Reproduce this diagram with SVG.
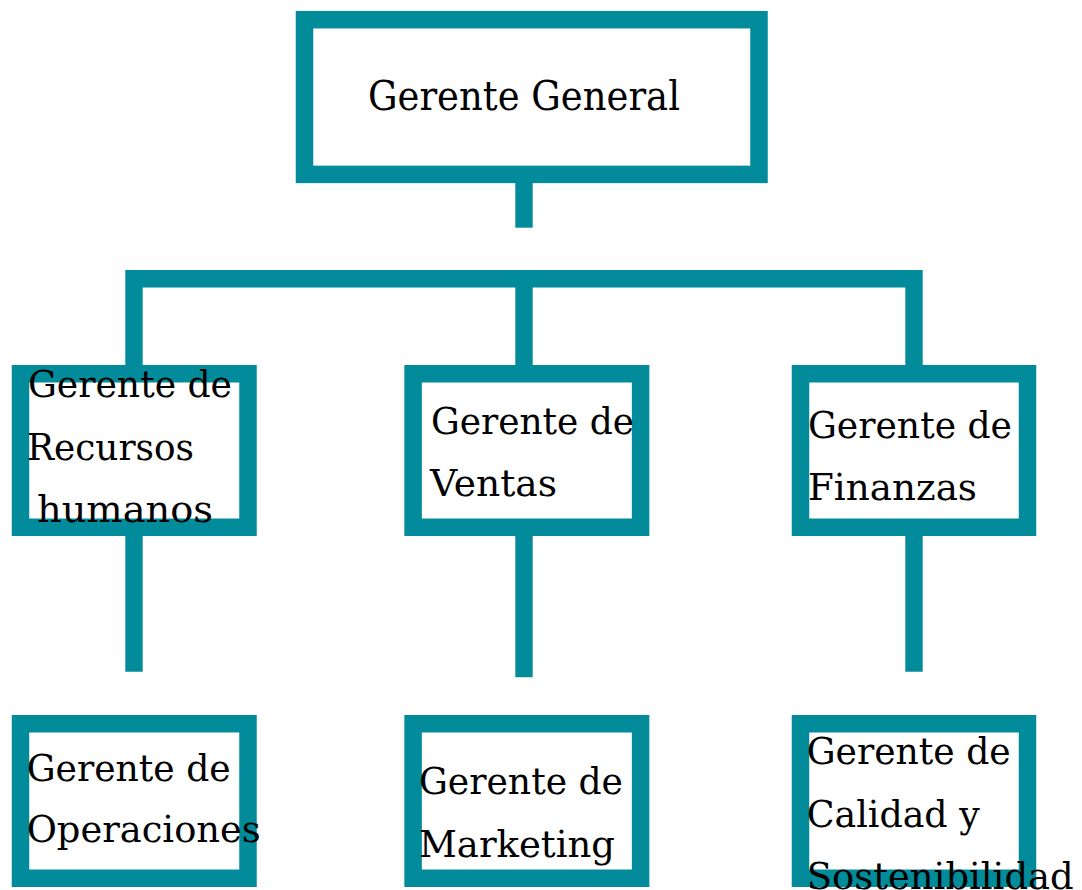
<svg xmlns="http://www.w3.org/2000/svg" width="1082" height="890" viewBox="0 0 1082 890">
<style>
.box{fill:#ffffff;stroke:#028B9B;stroke-width:17.5}
.con{fill:none;stroke:#028B9B;stroke-width:17.4;stroke-linecap:butt;stroke-linejoin:miter}
.t{font-family:"DejaVu Serif","Liberation Serif",serif;font-size:38px;fill:#000000}
.tt{font-family:"DejaVu Serif","Liberation Serif",serif;font-size:41px;fill:#000000}
</style>
<rect width="1082" height="890" fill="#ffffff"/>
<g id="connectors">
<path class="con" d="M524,183 V227.7"/>
<path class="con" d="M134,365 V278.8 H914 V365"/>
<path class="con" d="M524,278.8 V365"/>
<path class="con" d="M134,536 V671.7"/>
<path class="con" d="M524,536 V677.3"/>
<path class="con" d="M914,536 V671.7"/>
</g>
<g id="gerente-general">
<rect class="box" x="304.5" y="19.7" width="454.5" height="154.7"/>
<text class="tt" x="368" y="109.5" textLength="312" lengthAdjust="spacingAndGlyphs">Gerente General</text>
</g>
<g id="gerente-rrhh">
<rect class="box" x="20.5" y="373.75" width="227.5" height="153.5"/>
<text class="t" x="28" y="396.5" textLength="204" lengthAdjust="spacingAndGlyphs">Gerente de</text>
<text class="t" x="27" y="460" textLength="167" lengthAdjust="spacingAndGlyphs">Recursos</text>
<text class="t" x="37" y="521.5" textLength="176" lengthAdjust="spacingAndGlyphs">humanos</text>
</g>
<g id="gerente-ventas">
<rect class="box" x="413.1" y="373.75" width="227.5" height="153.5"/>
<text class="t" x="431" y="433.5" textLength="203" lengthAdjust="spacingAndGlyphs">Gerente de</text>
<text class="t" x="430" y="495.7" textLength="127" lengthAdjust="spacingAndGlyphs">Ventas</text>
</g>
<g id="gerente-finanzas">
<rect class="box" x="800.5" y="373.75" width="227" height="153.5"/>
<text class="t" x="808" y="437.5" textLength="204" lengthAdjust="spacingAndGlyphs">Gerente de</text>
<text class="t" x="808" y="500" textLength="169" lengthAdjust="spacingAndGlyphs">Finanzas</text>
</g>
<g id="gerente-operaciones">
<rect class="box" x="20.5" y="723.75" width="227.5" height="154.5"/>
<text class="t" x="26.7" y="781" textLength="204" lengthAdjust="spacingAndGlyphs">Gerente de</text>
<text class="t" x="26.7" y="841.7" textLength="234" lengthAdjust="spacingAndGlyphs">Operaciones</text>
</g>
<g id="gerente-marketing">
<rect class="box" x="413.1" y="723.75" width="227.5" height="154.5"/>
<text class="t" x="419" y="794.3" textLength="204" lengthAdjust="spacingAndGlyphs">Gerente de</text>
<text class="t" x="419" y="856.7" textLength="196" lengthAdjust="spacingAndGlyphs">Marketing</text>
</g>
<g id="gerente-calidad">
<rect class="box" x="800.5" y="723.75" width="227" height="154.5"/>
<text class="t" x="806.7" y="764.3" textLength="204" lengthAdjust="spacingAndGlyphs">Gerente de</text>
<text class="t" x="806.7" y="826.7" textLength="173" lengthAdjust="spacingAndGlyphs">Calidad y</text>
<text class="t" x="806.7" y="888.7" textLength="267" lengthAdjust="spacingAndGlyphs">Sostenibilidad</text>
</g>
</svg>
